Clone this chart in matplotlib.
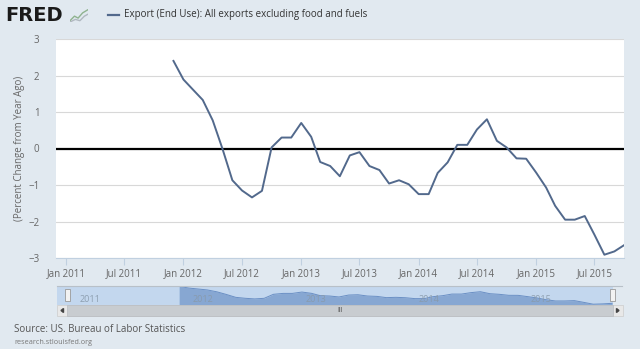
import matplotlib
matplotlib.use("Agg")
import matplotlib.pyplot as plt
import matplotlib.dates as mdates
from matplotlib.patches import Rectangle, Polygon
from matplotlib.lines import Line2D
import datetime as dt

# ---- data ----
start_year, start_month = 2011, 12
values = [2.40,
          1.89, 1.60, 1.33, 0.77, 0.00, -0.87, -1.15, -1.34, -1.16, 0.03, 0.30, 0.30,
          0.70, 0.32, -0.37, -0.48, -0.76, -0.19, -0.10, -0.48, -0.59, -0.96, -0.87, -0.98,
          -1.25, -1.25, -0.67, -0.38, 0.10, 0.10, 0.52, 0.80, 0.21, 0.03, -0.27, -0.28,
          -0.66, -1.07, -1.57, -1.95, -1.95, -1.85, -2.36, -2.91, -2.82, -2.65]
series_label = "Export (End Use): All exports excluding food and fuels"
y_label = "(Percent Change from Year Ago)"
tick_labels = ["Jan 2011", "Jul 2011", "Jan 2012", "Jul 2012", "Jan 2013",
               "Jul 2013", "Jan 2014", "Jul 2014", "Jan 2015", "Jul 2015"]
nav_years = ["2011", "2012", "2013", "2014", "2015"]
source_text = "Source: US. Bureau of Labor Statistics"
site_text = "research.stlouisfed.org"

dates = []
y, m = start_year, start_month
for _ in values:
    dates.append(dt.date(y, m, 1))
    m += 1
    if m > 12:
        m = 1
        y += 1

tick_dates = []
for lab in tick_labels:
    mon, yr = lab.split()
    tick_dates.append(dt.date(int(yr), 1 if mon == "Jan" else 7, 1))

# ---- figure ----
W, H = 640, 349
BG = "#e1e9f0"
LINE = "#52698c"
TXT = "#666666"
plt.rcParams['font.family'] = ['Open Sans', 'DejaVu Sans']
fig = plt.figure(figsize=(W / 100, H / 100), dpi=100, facecolor=BG)

def rect(x0, y0, x1, y1):
    return [x0 / W, 1 - y1 / H, (x1 - x0) / W, (y1 - y0) / H]

def fx(px):
    return px / W

def fy(py):
    return 1 - py / H

# main axes
ax = fig.add_axes(rect(56, 39, 624, 258))
ax.set_facecolor("white")
ax.plot(dates, values, color=LINE, lw=1.4, zorder=3)
ax.axhline(0, color="black", lw=1.6, zorder=2)
ax.set_ylim(-3, 3)
ax.set_yticks(range(-3, 4))
ax.set_xlim(dt.date(2010, 12, 1), dt.date(2015, 10, 1))
ax.set_xticks(tick_dates)
ax.set_xticklabels(tick_labels)
ax.grid(axis="y", color="#d8d8d8", lw=0.8)
ax.set_axisbelow(True)
for s in ["top", "right", "left"]:
    ax.spines[s].set_visible(False)
ax.spines["bottom"].set_color("#c0d0e0")
ax.tick_params(axis="x", length=5, color="#c0d0e0", labelsize=7, labelcolor=TXT, pad=2)
ax.tick_params(axis="y", length=0, labelsize=7, labelcolor=TXT, pad=12)
ax.set_ylabel(y_label, fontsize=7, color=TXT, labelpad=2)

# header
fig.text(fx(5), fy(15.5), "FRED", fontsize=14, fontweight="black", color="#1a1a1a",
         family=["DejaVu Sans"], va="center", ha="left")
ic = fig.add_axes(rect(70, 9, 88, 22))
ic.set_axis_off()
ic.plot([0, 0.25, 0.45, 0.7, 1.0], [0.1, 0.45, 0.3, 0.7, 0.95], color="#8fb38f", lw=1.0)
ic.plot([0, 0.3, 0.55, 0.8, 1.0], [0.0, 0.2, 0.1, 0.45, 0.6], color="#b0b8c0", lw=1.0)
ic.set_xlim(0, 1); ic.set_ylim(0, 1)
fig.add_artist(Line2D([fx(108), fx(119)], [fy(15), fy(15)], color=LINE, lw=1.6))
fig.text(fx(124), fy(15), series_label, fontsize=7, color="#333333", va="center", ha="left")

# navigator
nav_bg = fig.add_axes(rect(57, 286, 613, 305))
nav_bg.set_facecolor("#c3d7ee")
nav_bg.set_xlim(dt.date(2010, 11, 1), dt.date(2015, 10, 4))
nav_bg.set_ylim(-3.15, 2.5)
nav_bg.fill_between(dates, values, -3.15, color="#7d9fce", alpha=0.85, lw=0, zorder=1)
nav_bg.plot(dates, values, color="#6a8fc4", lw=0.7, zorder=2)
for s in nav_bg.spines.values():
    s.set_visible(False)
nav_bg.set_xticks([]); nav_bg.set_yticks([])
for yr in nav_years:
    nav_bg.text(dt.date(int(yr), 1, 12), -1.6, yr, fontsize=6.5, color="#8899aa",
                alpha=0.9, va="center", ha="left", zorder=5)
fig.add_artist(Line2D([fx(57), fx(622)], [fy(286), fy(286)], color="#b8c0c8", lw=0.8))
# handles
for hx in (65, 610):
    fig.add_artist(Rectangle((fx(hx), fy(301)), 5 / W, 12 / H, transform=fig.transFigure,
                             facecolor="#f2f2f2", edgecolor="#999999", lw=0.6))
# scrollbar
fig.add_artist(Rectangle((fx(57), fy(316)), 566 / W, 11 / H, transform=fig.transFigure,
                         facecolor="#e8e8e8", edgecolor="#cccccc", lw=0.5))
fig.add_artist(Rectangle((fx(67), fy(316)), 546 / W, 11 / H, transform=fig.transFigure,
                         facecolor="#c8ccd0", edgecolor="#b8bcc0", lw=0.5))
fig.text(fx(340), fy(310.5), "III", fontsize=5, color="#555555", ha="center", va="center")
fig.add_artist(Polygon([[fx(63.5), fy(308.5)], [fx(63.5), fy(312.5)], [fx(61), fy(310.5)]],
                       closed=True, transform=fig.transFigure, color="#444444"))
fig.add_artist(Polygon([[fx(616.5), fy(308.5)], [fx(616.5), fy(312.5)], [fx(619), fy(310.5)]],
                       closed=True, transform=fig.transFigure, color="#444444"))

# footer
fig.text(fx(14), fy(329), source_text, fontsize=7, color="#555555", va="center", ha="left")
fig.text(fx(14), fy(343), site_text, fontsize=5.2, color="#777777", va="center", ha="left")

fig.savefig("out.png", dpi=100, facecolor=BG)
